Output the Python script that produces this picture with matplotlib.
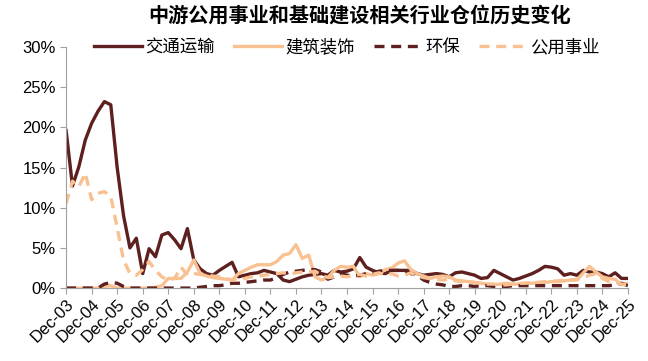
import numpy as np
import matplotlib
matplotlib.use("Agg")
import matplotlib.pyplot as plt
from matplotlib.ticker import PercentFormatter

plt.rcParams['font.family'] = ['Liberation Sans', 'Noto Sans CJK SC', 'DejaVu Sans']

# 季度数据, Dec-03 ~ Dec-25 (单位: %)
quarters = list(range(89))
tick_labels = ["Dec-%02d" % y for y in range(3, 26)]

transport = [19.6, 12.7, 15.1, 18.4, 20.5, 22.0, 23.2, 22.8, 15.0, 9.0,
             5.0, 6.2, 1.8, 4.9, 3.9, 6.6, 6.9, 6.0, 4.9, 7.4,
             3.5, 2.4, 1.8, 1.6, 2.2, 2.7, 3.2, 1.4, 1.6, 1.8,
             1.9, 2.2, 2.0, 1.8, 1.0, 0.8, 1.1, 1.4, 1.6, 1.7,
             1.8, 1.6, 2.2, 2.0, 2.1, 2.4, 3.8, 2.6, 2.2, 1.9,
             1.8, 2.2, 2.2, 2.2, 2.2, 1.8, 1.6, 1.7, 1.8, 1.7,
             1.4, 1.9, 2.0, 1.8, 1.6, 1.2, 1.3, 2.2, 1.8, 1.4,
             1.0, 1.2, 1.5, 1.8, 2.2, 2.7, 2.6, 2.4, 1.6, 1.8,
             1.6, 2.2, 2.0, 2.0, 1.8, 1.4, 1.9, 1.2, 1.2]

construction = [0.0, 0.0, 0.0, 0.0, 0.0, 0.0, 0.2, 0.3, 0.0, 0.0,
                0.0, 0.0, 0.0, 0.0, 0.1, 0.3, 1.2, 1.2, 1.2, 2.0,
                3.5, 1.8, 1.5, 1.3, 1.2, 1.1, 1.0, 1.8, 2.2, 2.6,
                2.9, 2.9, 2.9, 3.3, 4.1, 4.3, 5.4, 3.7, 4.1, 1.4,
                1.0, 1.3, 2.2, 2.7, 2.6, 2.7, 1.4, 1.8, 1.6, 1.8,
                2.3, 2.5, 3.1, 3.4, 2.3, 1.8, 1.5, 1.2, 1.4, 1.5,
                1.4, 1.0, 0.9, 0.8, 0.7, 0.6, 0.5, 0.4, 0.5, 0.6,
                0.5, 0.5, 0.6, 0.6, 0.7, 0.7, 0.8, 0.8, 0.9, 1.0,
                1.0, 1.9, 2.7, 2.0, 1.4, 1.2, 1.1, 0.4, 0.6]

environment = [0.0, 0.0, 0.0, 0.0, 0.0, 0.0, 0.5, 0.7, 0.6, 0.2,
               0.0, 0.0, 0.0, 0.0, 0.0, 0.0, 0.0, 0.0, 0.0, 0.0,
               0.0, 0.1, 0.2, 0.3, 0.3, 0.4, 0.6, 0.6, 0.7, 0.8,
               0.9, 1.0, 1.0, 1.3, 1.7, 2.0, 2.1, 2.2, 2.3, 2.3,
               2.0, 1.1, 1.4, 1.8, 1.6, 1.5, 1.6, 1.8, 1.9, 2.1,
               2.2, 2.2, 2.2, 2.2, 1.8, 1.6, 1.0, 0.7, 0.5, 0.4,
               0.2, 0.2, 0.3, 0.3, 0.2, 0.3, 0.3, 0.2, 0.2, 0.2,
               0.3, 0.3, 0.3, 0.3, 0.3, 0.3, 0.3, 0.3, 0.3, 0.3,
               0.3, 0.3, 0.3, 0.3, 0.3, 0.3, 0.4, 0.6, 0.3]

utilities = [10.5, 13.3, 12.6, 14.3, 11.0, 11.8, 12.0, 11.4, 7.5, 3.5,
             1.8, 1.6, 2.3, 3.3, 2.2, 1.4, 1.0, 1.2, 2.6, 1.6,
             1.8, 1.7, 1.6, 1.5, 1.4, 1.2, 1.0, 1.0, 1.2, 1.4,
             1.5, 1.6, 1.7, 1.8, 1.9, 1.8, 1.9, 2.0, 2.0, 2.1,
             1.6, 1.3, 1.4, 1.5, 1.4, 1.6, 1.7, 1.5, 1.7, 1.9,
             1.6, 1.8, 1.5, 1.6, 1.9, 1.5, 1.3, 1.2, 1.1, 1.0,
             1.1, 0.9, 0.8, 0.8, 0.7, 0.6, 0.5, 0.5, 0.4, 0.4,
             0.5, 0.6, 0.6, 0.7, 0.7, 0.8, 0.8, 0.9, 1.0, 1.0,
             1.1, 1.3, 1.6, 1.8, 1.2, 0.8, 0.7, 0.5, 0.4]

dark = '#5E1F1F'
light = '#F9C192'

fig = plt.figure(figsize=(6.48, 3.61), dpi=100)
ax = fig.add_axes([0.102, 0.202, 0.867, 0.668])

ax.plot(quarters, transport, color=dark, lw=2.4, label='交通运输')
ax.plot(quarters, construction, color=light, lw=2.4, label='建筑装饰')
ax.plot(quarters, environment, color=dark, lw=2.4, ls=(0, (3, 2)), label='环保')
ax.plot(quarters, utilities, color=light, lw=2.4, ls=(0, (3, 2)), label='公用事业')

ax.set_xlim(0, 88)
ax.set_ylim(0, 30)
ax.set_yticks(np.arange(0, 31, 5))
ax.yaxis.set_major_formatter(PercentFormatter(decimals=0))
ax.set_xticks(quarters[::4])
ax.set_xticklabels(tick_labels, rotation=45, ha='right', rotation_mode='anchor')

for s in ['top', 'right']:
    ax.spines[s].set_visible(False)
for s in ['left', 'bottom']:
    ax.spines[s].set_color('#A0A0A0')
ax.tick_params(axis='both', colors='#A0A0A0', labelcolor='black', labelsize=12, length=4)
ax.tick_params(axis='x', pad=2)

ax.legend(loc='center', bbox_to_anchor=(0.5, 1.0), ncol=4, frameon=False,
          fontsize=12.5, handlelength=2.75, columnspacing=1.1, handletextpad=0.2)

fig.text(0.555, 0.955, '中游公用事业和基础建设相关行业仓位历史变化', ha='center', va='center',
         fontsize=14.5, fontweight='bold')

fig.savefig('out.png', dpi=100)
